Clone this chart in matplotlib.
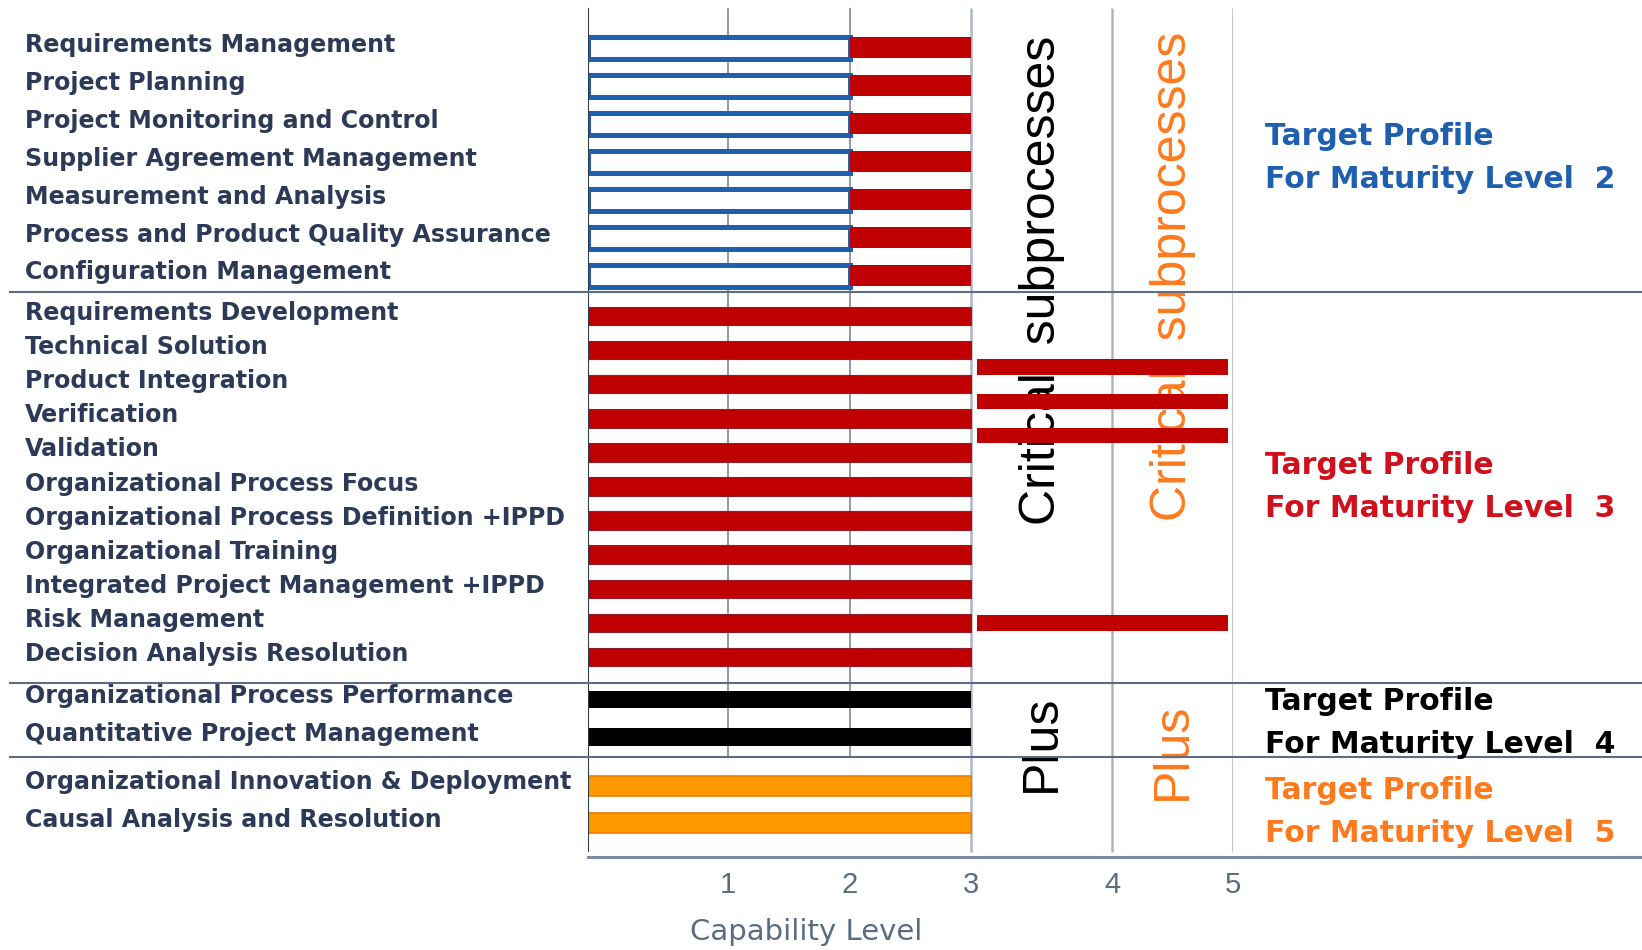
import numpy as np
import matplotlib
matplotlib.use("Agg")
import matplotlib.pyplot as plt
from matplotlib import transforms
from matplotlib.lines import Line2D

# ---- data -------------------------------------------------------------
ml2_processes = [
    "Requirements Management",
    "Project Planning",
    "Project Monitoring and Control",
    "Supplier Agreement Management",
    "Measurement and Analysis",
    "Process and Product Quality Assurance",
    "Configuration Management",
]
ml2_level = [2, 2, 2, 2, 2, 2, 2]
ml2_target = [3, 3, 3, 3, 3, 3, 3]

ml3_processes = [
    "Requirements Development",
    "Technical Solution",
    "Product Integration",
    "Verification",
    "Validation",
    "Organizational Process Focus",
    "Organizational Process Definition +IPPD",
    "Organizational Training",
    "Integrated Project Management +IPPD",
    "Risk Management",
    "Decision Analysis Resolution",
]
ml3_target = [3, 3, 3, 3, 3, 3, 3, 3, 3, 3, 3]

ml4_processes = [
    "Organizational Process Performance",
    "Quantitative Project Management",
]
ml4_target = [3, 3]

ml5_processes = [
    "Organizational Innovation & Deployment",
    "Causal Analysis and Resolution",
]
ml5_target = [3, 3]

# critical subprocess bars (row slot inside the ML3 block), level 3 -> 5
critical_slots = [1.5, 2.5, 3.5, 9]
critical_from = [3, 3, 3, 3]
critical_to = [5, 5, 5, 5]

tick_levels = [1, 2, 3, 4, 5]

# ---- colours ----------------------------------------------------------
BLUE = "#1e5fb0"
RED = "#c00000"
RED_TXT = "#d0101c"
ORANGE = "#ff9900"
ORANGE_TXT = "#ff7a1c"
LABEL = "#2d3a57"
AXIS_TXT = "#5b6b82"
SEP = "#5d6c82"

W, H = 1642, 950


def fx(px):
    return px / W


def fy(py):
    return 1 - py / H


fig = plt.figure(figsize=(W / 100, H / 100), dpi=100)

# main axes: x in capability levels, y in pixel rows (top = 8, bottom = 857)
ax = fig.add_axes([fx(588), fy(857), fx(1233) - fx(588), fy(8) - fy(857)])
levels = [0, 1, 2, 3, 4, 5]
grid_px = [0, 140, 262, 383, 524, 645]  # grid is not evenly spaced in the original
ax.set_xscale("function", functions=(lambda v: np.interp(v, levels, grid_px),
                                     lambda v: np.interp(v, grid_px, levels)))
ax.set_xlim(0, 5)
ax.set_ylim(857, 8)
for s in ax.spines.values():
    s.set_visible(False)
ax.set_yticks([])
ax.set_xticks(tick_levels)
ax.set_xticklabels([str(t) for t in tick_levels])
ax.tick_params(axis="x", length=0, pad=10, labelsize=21, labelcolor=AXIS_TXT)
for lab in ax.get_xticklabels():
    lab.set_family("Liberation Sans")

# row centres per block
ml2_y = 47.5 + 38.0 * np.arange(len(ml2_processes))
ml3_y = 316.0 + 34.1 * np.arange(len(ml3_processes))
ml4_y = 699.5 + 37.5 * np.arange(len(ml4_processes))
ml5_y = 785.5 + 37.0 * np.arange(len(ml5_processes))
crit_y = 316.0 + 34.1 * np.array(critical_slots)

# grid lines
ax.vlines([1, 2], 8, 757, color="#7b8aa0", lw=1.2, zorder=1)
ax.vlines([3, 4, 5], 8, 852, color="#aab6c6", lw=1.8, zorder=1)
ax.vlines([0], 8, 852, color="#2e3a4f", lw=1.5, zorder=4)

# vertical "Critical subprocesses" / "Plus" texts (under the bars)
ax.text(3.5, 280, "Critical  subprocesses", rotation=90, ha="center", va="center",
        fontsize=36, family="Liberation Sans", color="black", zorder=2)
ax.text(4.5, 276, "Critical  subprocesses", rotation=90, ha="center", va="center",
        fontsize=36, family="Liberation Sans", color=ORANGE_TXT, zorder=2)
ax.text(3.5, 743, "Plus", rotation=90, ha="center", va="center",
        fontsize=36, family="Liberation Sans", color="black", zorder=2)
ax.text(4.5, 751, "Plus", rotation=90, ha="center", va="center",
        fontsize=36, family="Liberation Sans", color=ORANGE_TXT, zorder=2)

# bars
ax.barh(ml2_y, ml2_level, height=22, left=0, color="white", edgecolor=BLUE,
        linewidth=3.6, zorder=3)
ax.barh(ml2_y, np.array(ml2_target) - np.array(ml2_level), left=ml2_level,
        height=21, color=RED, zorder=3)
ax.barh(ml3_y, ml3_target, height=18.5, color=RED, edgecolor="#8f1d2c",
        linewidth=0.8, zorder=3)
ax.barh(ml4_y, ml4_target, height=17.5, color="black", zorder=3)
ax.barh(ml5_y, ml5_target, height=20, color=ORANGE, edgecolor="#f07a00",
        linewidth=1.2, zorder=3)
pad = 0.045
ax.barh(crit_y, np.array(critical_to) - np.array(critical_from) - 2 * pad,
        left=np.array(critical_from) + pad, height=15.5, color=RED, zorder=5)

# row labels
lab_tr = transforms.blended_transform_factory(fig.transFigure, ax.transData)
for names, ys in [(ml2_processes, ml2_y), (ml3_processes, ml3_y),
                  (ml4_processes, ml4_y), (ml5_processes, ml5_y)]:
    for name, y in zip(names, ys):
        ax.text(fx(25), y - 3, name, transform=lab_tr, ha="left", va="center",
                fontsize=17.1, fontweight="bold", color=LABEL, clip_on=False)

# block separators and bottom axis line
for sy in [291.5, 682.5, 757]:
    fig.add_artist(Line2D([fx(10), fx(1642)], [fy(sy), fy(sy)], color=SEP, lw=1.5))
fig.add_artist(Line2D([fx(588), fx(1642)], [fy(857), fy(857)], color="#7d8ca3", lw=2.2))

# target profile captions
captions = [
    (145, BLUE, "2"),
    (474, RED_TXT, "3"),
    (710, "black", "4"),
    (799, ORANGE_TXT, "5"),
]
for base, col, lvl in captions:
    fig.text(fx(1265), fy(base), "Target Profile", ha="left", va="baseline",
             fontsize=21.5, fontweight="bold", color=col)
    fig.text(fx(1265), fy(base + 43), "For Maturity Level  " + lvl, ha="left",
             va="baseline", fontsize=21.5, fontweight="bold", color=col)

fig.text(fx(806), fy(932), "Capability Level", ha="center", va="center",
         fontsize=21, color=AXIS_TXT)

fig.savefig("out.png", dpi=100)
